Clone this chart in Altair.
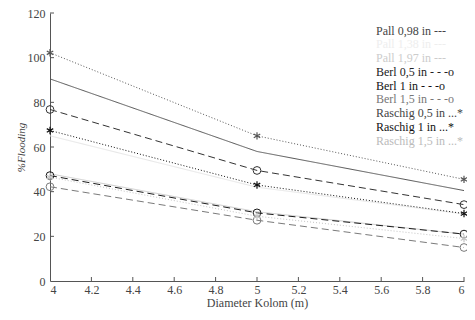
import altair as alt
import pandas as pd

# ---- data ----
diameters = [4, 5, 6]
series_names = [
    "Pall 0,98 in ---", "Pall 1,38 in ---", "Pall 1,97 in ---",
    "Berl 0,5 in - - -o", "Berl 1 in - - -o", "Berl 1,5 in - - -o",
    "Raschig 0,5 in ...*", "Raschig 1 in ...*", "Raschig 1,5 in ...*",
]
pall_098 = [90.5, 58.0, 40.5]
pall_138 = [65.0, 42.0, 30.0]
pall_197 = [48.0, 31.0, 21.0]
berl_05 = [76.8, 49.5, 34.2]
berl_1 = [47.2, 30.5, 21.0]
berl_15 = [42.2, 27.2, 15.0]
raschig_05 = [102.2, 65.0, 45.5]
raschig_1 = [67.4, 43.0, 30.2]
raschig_15 = [46.5, 29.0, 19.0]
all_values = [pall_098, pall_138, pall_197, berl_05, berl_1, berl_15,
              raschig_05, raschig_1, raschig_15]
x_ticks = [4, 4.2, 4.4, 4.6, 4.8, 5, 5.2, 5.4, 5.6, 5.8, 6]
y_ticks = [0, 20, 40, 60, 80, 100, 120]

# ---- styles ----
colors = ["#555555", "#e6e6e6", "#cccccc",
          "#333333", "#1a1a1a", "#7a7a7a",
          "#555555", "#111111", "#c4c4c4"]
text_colors = ["#444444", "#eeeeee", "#cccccc",
               "#222222", "#111111", "#777777",
               "#444444", "#111111", "#bbbbbb"]
dashes = [[1, 0], [1, 0], [1, 0],
          [7, 4], [7, 4], [7, 4],
          [1, 2], [1, 2], [1, 2]]
FONT = "Liberation Serif"
PLOT_W, PLOT_H = 414, 268

rows = []
for name, vals in zip(series_names, all_values):
    for xv, yv in zip(diameters, vals):
        rows.append({"series": name, "d": xv, "v": yv,
                     "kind": name.split()[0]})
df = pd.DataFrame(rows)

x_scale = alt.Scale(domain=[4, 6], nice=False, zero=False)
y_scale = alt.Scale(domain=[0, 120], nice=False)
color_scale = alt.Scale(domain=series_names, range=colors)
dash_scale = alt.Scale(domain=series_names, range=dashes)

X = alt.X("d:Q", scale=x_scale,
          axis=alt.Axis(values=x_ticks, format="~g", title="Diameter Kolom (m)",
                        tickSize=0, labelPadding=3, titlePadding=2))
Y = alt.Y("v:Q", scale=y_scale,
          axis=alt.Axis(values=y_ticks, title="%Flooding", tickSize=0,
                        labelPadding=5, titlePadding=1, titleFontStyle="italic",
                        titleFontSize=11))

base = alt.Chart(df)
lines = base.mark_line(strokeWidth=1).encode(
    x=X, y=Y,
    color=alt.Color("series:N", scale=color_scale, legend=None),
    strokeDash=alt.StrokeDash("series:N", scale=dash_scale, legend=None),
    detail="series:N",
)
circles = base.transform_filter(alt.datum.kind == "Berl").mark_point(
    shape="circle", size=60, filled=False, strokeWidth=1, opacity=1
).encode(x="d:Q", y="v:Q",
         color=alt.Color("series:N", scale=color_scale, legend=None))
asterisk = "M0,-1L0,1M-0.87,-0.5L0.87,0.5M-0.87,0.5L0.87,-0.5"
stars = base.transform_filter(alt.datum.kind == "Raschig").mark_point(
    shape=asterisk, size=55, filled=False, strokeWidth=1.2, opacity=1
).encode(x="d:Q", y="v:Q",
         color=alt.Color("series:N", scale=color_scale, legend=None))

# legend as plain coloured text (no symbols), like the reference
leg_x = 5.575
leg_top = 112.1
leg_step = 6.15
leg_df = pd.DataFrame({
    "label": series_names,
    "d": [leg_x] * len(series_names),
    "v": [leg_top - leg_step * i for i in range(len(series_names))],
    "c": text_colors,
})
legend = alt.Chart(leg_df).mark_text(
    align="left", baseline="middle", font=FONT, fontSize=12
).encode(x="d:Q", y="v:Q", text="label:N",
         color=alt.Color("c:N", scale=None, legend=None))

# inward ticks (MATLAB style)
xt = alt.Chart(pd.DataFrame({"t": x_ticks[1:]})).mark_rule(
    color="#555555", strokeWidth=1
).encode(x="t:Q", y=alt.value(PLOT_H), y2=alt.value(PLOT_H - 4))
yt = alt.Chart(pd.DataFrame({"t": y_ticks[1:]})).mark_rule(
    color="#555555", strokeWidth=1
).encode(y="t:Q", x=alt.value(0), x2=alt.value(4))

chart = alt.layer(lines, circles, stars, legend, xt, yt).properties(
    width=PLOT_W, height=PLOT_H,
    autosize=alt.AutoSizeParams(type="none"),
    padding={"left": 42, "top": 5, "right": 3, "bottom": 29},
).configure_view(stroke=None).configure_axis(
    grid=False, domainColor="#555555", domainWidth=1,
    labelFont=FONT, labelFontSize=12, labelColor="#444444",
    titleFont=FONT, titleFontSize=12, titleColor="#444444",
    titleFontWeight="normal",
)

chart.save("out.html", embed_options={"renderer": "svg", "actions": False})
